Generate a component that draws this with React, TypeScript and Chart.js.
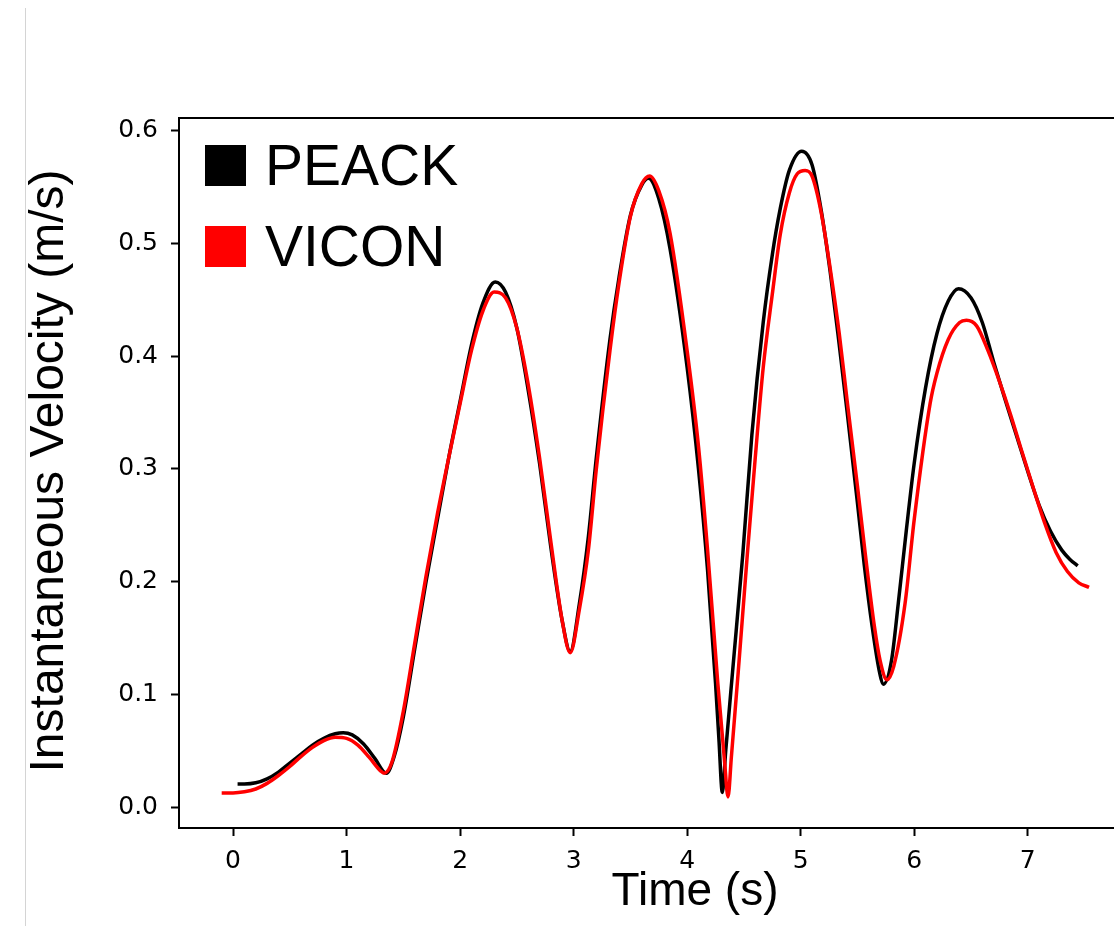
import React, { useEffect, useRef } from 'react';
import { Chart, registerables } from 'chart.js';

Chart.register(...registerables);

// ---- data ----
const seriesLabels = ['PEACK', 'VICON'];
const seriesColors = ['#000000', '#ff0000'];

const peackTime = [
  0.04, 0.1, 0.2, 0.3, 0.4, 0.5, 0.6, 0.7, 0.8, 0.9, 0.97, 1.05, 1.15, 1.25, 1.35, 1.42,
  1.5, 1.6, 1.7, 1.8, 1.9, 2.0, 2.1, 2.2, 2.31, 2.4, 2.5, 2.6, 2.7, 2.8, 2.9, 2.97,
  3.05, 3.13, 3.2, 3.32, 3.4, 3.5, 3.6, 3.66, 3.75, 3.85, 4.0, 4.1, 4.18, 4.25, 4.28, 4.31, 4.34,
  4.4, 4.49, 4.57, 4.67, 4.75, 4.82, 4.9, 5.01, 5.1, 5.18, 5.26, 5.34, 5.41, 5.5, 5.56,
  5.63, 5.69, 5.73, 5.8, 5.86, 5.93, 6.0, 6.1, 6.2, 6.3, 6.39, 6.5, 6.6, 6.7, 6.8, 6.9,
  7.0, 7.1, 7.2, 7.3, 7.37, 7.44,
];
const peackVel = [
  0.0205, 0.0205, 0.0215, 0.025, 0.031, 0.039, 0.047, 0.055, 0.061, 0.065, 0.066, 0.064, 0.056, 0.043, 0.030, 0.045,
  0.080, 0.140, 0.200, 0.255, 0.310, 0.360, 0.410, 0.447, 0.466, 0.457, 0.425, 0.370, 0.305, 0.230, 0.165, 0.138,
  0.180, 0.240, 0.310, 0.415, 0.470, 0.525, 0.552, 0.558, 0.540, 0.495, 0.390, 0.300, 0.210, 0.110, 0.060, 0.013, 0.050,
  0.120, 0.224, 0.330, 0.430, 0.490, 0.531, 0.565, 0.582, 0.570, 0.530, 0.475, 0.410, 0.350, 0.270, 0.215,
  0.160, 0.122, 0.109, 0.130, 0.181, 0.245, 0.305, 0.372, 0.420, 0.449, 0.460, 0.452, 0.430, 0.395, 0.362, 0.330,
  0.298, 0.268, 0.245, 0.228, 0.220, 0.214,
];

const viconTime = [
  -0.1, 0.0, 0.1, 0.2, 0.3, 0.4, 0.5, 0.6, 0.7, 0.8, 0.9, 1.0, 1.1, 1.2, 1.3, 1.33, 1.4,
  1.5, 1.6, 1.7, 1.8, 1.9, 2.0, 2.1, 2.2, 2.3, 2.4, 2.5, 2.6, 2.7, 2.8, 2.9, 2.97,
  3.05, 3.13, 3.2, 3.32, 3.4, 3.5, 3.6, 3.67, 3.75, 3.85, 4.0, 4.1, 4.18, 4.27, 4.33, 4.36, 4.39,
  4.45, 4.53, 4.6, 4.67, 4.75, 4.82, 4.9, 4.97, 5.04, 5.1, 5.18, 5.26, 5.34, 5.41, 5.5,
  5.57, 5.65, 5.7, 5.76, 5.82, 5.92, 6.0, 6.14, 6.2, 6.3, 6.4, 6.46, 6.55, 6.65, 6.75,
  6.85, 6.95, 7.05, 7.15, 7.25, 7.35, 7.45, 7.54,
];
const viconVel = [
  0.0125, 0.0125, 0.0135, 0.016, 0.021, 0.028, 0.036, 0.045, 0.053, 0.059, 0.062, 0.061, 0.055, 0.044, 0.032, 0.030, 0.040,
  0.085, 0.145, 0.205, 0.260, 0.310, 0.358, 0.405, 0.440, 0.457, 0.452, 0.425, 0.375, 0.310, 0.235, 0.165, 0.137,
  0.175, 0.228, 0.300, 0.405, 0.465, 0.524, 0.553, 0.560, 0.547, 0.509, 0.405, 0.320, 0.228, 0.110, 0.040, 0.009, 0.045,
  0.120, 0.224, 0.310, 0.390, 0.455, 0.508, 0.545, 0.562, 0.565, 0.560, 0.528, 0.478, 0.420, 0.360, 0.285,
  0.224, 0.160, 0.130, 0.113, 0.125, 0.181, 0.255, 0.358, 0.385, 0.415, 0.430, 0.432, 0.427, 0.405, 0.378,
  0.348, 0.315, 0.283, 0.252, 0.226, 0.209, 0.199, 0.195,
];

const xTicks = [0, 1, 2, 3, 4, 5, 6, 7];
const yTicks = [0.0, 0.1, 0.2, 0.3, 0.4, 0.5, 0.6];
const xTitle = 'Time (s)';
const yTitle = 'Instantaneous Velocity (m/s)';

const X_MIN = -0.476;
const X_MAX = 7.76;
const Y_MIN = -0.0186;
const Y_MAX = 0.6115;

const TICK_FONT = { family: '"DejaVu Sans", sans-serif', size: 25 };
const LABEL_FAMILY = '"Liberation Sans", Arial, sans-serif';

const framePlugin = {
  id: 'frameAndLabels',
  afterDraw(chart: any) {
    const { ctx, chartArea } = chart;
    const { left, top, bottom } = chartArea;
    ctx.save();
    // top spine
    ctx.strokeStyle = '#000';
    ctx.lineWidth = 2;
    ctx.beginPath();
    ctx.moveTo(left - 1, top);
    ctx.lineTo(chart.width, top);
    ctx.stroke();

    // legend
    ctx.font = `57px ${LABEL_FAMILY}`;
    ctx.textAlign = 'left';
    ctx.textBaseline = 'alphabetic';
    seriesLabels.forEach((lab, i) => {
      const y0 = top + 27 + i * 81;
      ctx.fillStyle = seriesColors[i];
      ctx.fillRect(left + 26, y0, 41, 41);
      ctx.fillStyle = '#000';
      ctx.fillText(lab, left + 86, y0 + 40);
    });

    // axis titles
    ctx.fillStyle = '#000';
    ctx.font = `46px ${LABEL_FAMILY}`;
    ctx.textAlign = 'center';
    ctx.textBaseline = 'alphabetic';
    ctx.fillText(xTitle, 695, 905);

    ctx.save();
    ctx.translate(63, (top + bottom) / 2 - 2);
    ctx.rotate(-Math.PI / 2);
    ctx.font = `48px ${LABEL_FAMILY}`;
    ctx.fillText(yTitle, 0, 0);
    ctx.restore();

    ctx.restore();
  },
};

export default function App() {
  const ref = useRef<HTMLCanvasElement>(null);

  useEffect(() => {
    const canvas = ref.current;
    if (!canvas) return;
    const chart = new Chart(canvas, {
      type: 'line',
      data: {
        datasets: [
          {
            label: seriesLabels[0],
            data: peackTime.map((t, i) => ({ x: t, y: peackVel[i] })),
            borderColor: seriesColors[0],
            backgroundColor: seriesColors[0],
            borderWidth: 3.5,
            pointRadius: 0,
            cubicInterpolationMode: 'monotone',
            order: 2,
          },
          {
            label: seriesLabels[1],
            data: viconTime.map((t, i) => ({ x: t, y: viconVel[i] })),
            borderColor: seriesColors[1],
            backgroundColor: seriesColors[1],
            borderWidth: 3.5,
            pointRadius: 0,
            cubicInterpolationMode: 'monotone',
            order: 1,
          },
        ],
      },
      options: {
        responsive: false,
        animation: false,
        layout: { padding: { top: 118, left: 0, right: 0, bottom: 0 } },
        plugins: { legend: { display: false }, tooltip: { enabled: false } },
        scales: {
          x: {
            type: 'linear',
            min: X_MIN,
            max: X_MAX,
            afterBuildTicks: (s: any) => {
              s.ticks = xTicks.map((v) => ({ value: v }));
            },
            afterFit: (s: any) => {
              s.height = 98;
            },
            ticks: {
              font: TICK_FONT,
              color: '#000',
              padding: 10,
              maxRotation: 0,
              callback: (v: any) => String(v),
            },
            grid: {
              drawOnChartArea: false,
              drawTicks: true,
              tickLength: 8,
              tickWidth: 2,
              tickColor: '#000',
            },
            border: { display: true, color: '#000', width: 2 },
          },
          y: {
            type: 'linear',
            min: Y_MIN,
            max: Y_MAX,
            afterBuildTicks: (s: any) => {
              s.ticks = yTicks.map((v) => ({ value: v }));
            },
            afterFit: (s: any) => {
              s.width = 179;
            },
            ticks: {
              font: TICK_FONT,
              color: '#000',
              padding: 13,
              callback: (v: any) => Number(v).toFixed(1),
            },
            grid: {
              drawOnChartArea: false,
              drawTicks: true,
              tickLength: 8,
              tickWidth: 2,
              tickColor: '#000',
            },
            border: { display: true, color: '#000', width: 2 },
          },
        },
      },
      plugins: [framePlugin],
    });
    return () => chart.destroy();
  }, []);

  return (
    <div style={{ position: 'absolute', left: 0, top: 0, width: 1114, height: 926, background: '#fff' }}>
      <div style={{ position: 'absolute', left: 25, top: 8, width: 1, height: 918, background: '#d4d4d4' }} />
      <canvas ref={ref} width={1114} height={926} style={{ position: 'absolute', left: 0, top: 0 }} />
    </div>
  );
}
